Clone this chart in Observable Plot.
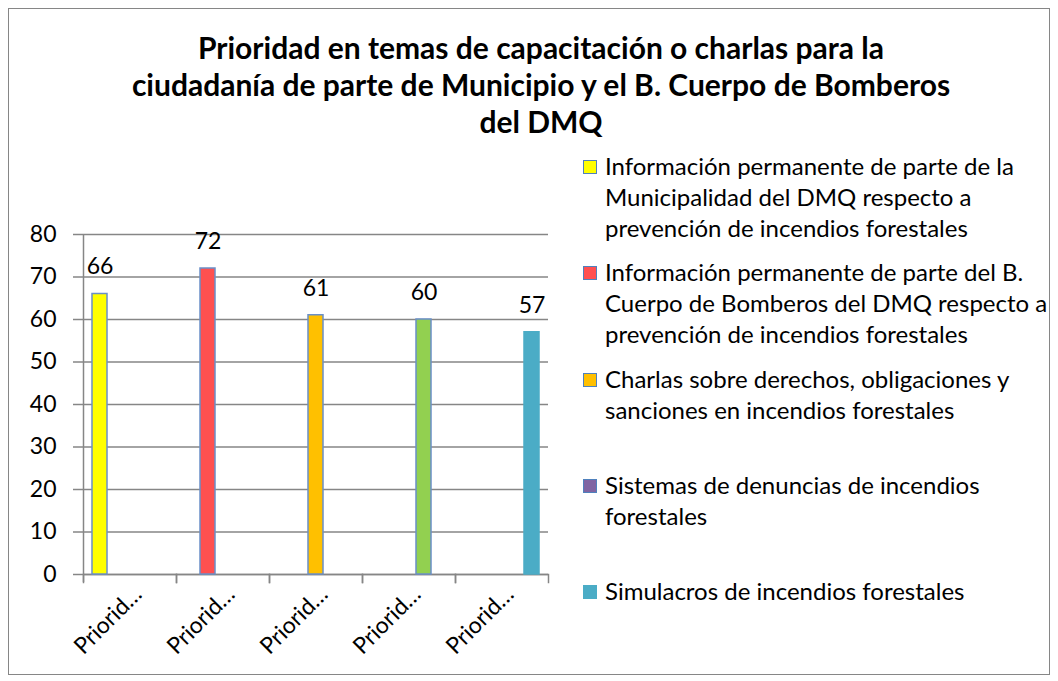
<!DOCTYPE html>
<html>
<head>
<meta charset="utf-8">
<script src="https://cdn.jsdelivr.net/npm/d3@7"></script>
<script src="https://cdn.jsdelivr.net/npm/@observablehq/plot@0.6"></script>
<style>
  body { margin: 0; background: #fff; font-family: Lato, sans-serif; color: #000; }
  #wrap { position: relative; width: 1058px; height: 681px; overflow: hidden; }
  #border { position: absolute; left: 8px; top: 8px; width: 1042px; height: 667px; border: 1.5px solid #868686; box-sizing: border-box; }
  #title { position: absolute; left: 0; top: 29px; width: 1082px; text-align: center; font-weight: bold; font-size: 30px; line-height: 37px; white-space: nowrap; }
  #chart { position: absolute; left: 0; top: 200px; }
  .item { position: absolute; left: 583px; width: 475px; font-size: 24px; line-height: 31px; }
  .sw { position: absolute; left: 0; top: 10px; width: 14px; height: 14px; box-sizing: border-box; }
  .txt { position: absolute; left: 22px; width: 452px; }
</style>
</head>
<body>
<div id="wrap">
  <div id="border"></div>
  <div id="title"></div>
  <div id="chart"></div>
  <div id="legend"></div>
</div>
<script>
const titleLines = [
  "Prioridad en temas de capacitación o charlas para la",
  "ciudadanía de parte de Municipio y el B. Cuerpo de Bomberos",
  "del DMQ"
];
const categories = ["Prioridad 1", "Prioridad 2", "Prioridad 3", "Prioridad 4", "Prioridad 5"];
const series = [
  "Información permanente de parte de la Municipalidad del DMQ respecto a prevención de incendios forestales",
  "Información permanente de parte del B. Cuerpo de Bomberos del DMQ respecto a prevención de incendios forestales",
  "Charlas sobre derechos, obligaciones y sanciones en incendios forestales",
  "Sistemas de denuncias de incendios forestales",
  "Simulacros de incendios forestales"
];
const values = [66, 72, 61, 60, 57];           // category i holds series i
const barColors = ["#FFFF00", "#FF5050", "#FFC000", "#92D050", "#4BACC6"];
const barStrokes = ["#6A8FC8", "#6A8FC8", "#6A8FC8", "#6A8FC8", "#4BACC6"];
const legendColors = ["#FFFF00", "#FF5050", "#FFC000", "#8064A2", "#4BACC6"];
const legendStrokes = ["#4F81BD", "#4F81BD", "#4F81BD", "#4F81BD", "#4BACC6"];
const yTicks = [0, 10, 20, 30, 40, 50, 60, 70, 80];

document.getElementById("title").innerHTML = titleLines.join("<br>");

const data = categories.map((c, i) => ({
  cat: c, series: series[i], value: values[i], fill: barColors[i], stroke: barStrokes[i]
}));

const gray = "#868686";
const chart = Plot.plot({
  width: 560,
  height: 470,
  marginLeft: 83,
  marginRight: 12,
  marginTop: 34,
  marginBottom: 96,
  style: { fontFamily: "Lato, sans-serif", fontSize: "22px", color: "#000", background: "transparent" },
  fx: { domain: categories, paddingInner: 0, paddingOuter: 0, label: null, axis: null },
  x: { domain: series, paddingInner: 0, paddingOuter: 0.6, axis: null },
  y: { domain: [0, 80], label: null, axis: null },
  marks: [
    Plot.gridY(yTicks, { stroke: gray, strokeOpacity: 1, strokeWidth: 1.5 }),
    Plot.axisY(yTicks, { tickSize: 10, tickPadding: 17, stroke: gray, strokeWidth: 1.5, fontSize: 23, label: null, tickFormat: d => String(d) }),
    Plot.axisFx({ anchor: "bottom", tickRotate: -45, tickSize: 0, tickPadding: 16, dx: 8, fontSize: 23, label: null, tickFormat: d => d.slice(0, 7) + "…" }),
    Plot.frame({ anchor: "left", insetTop: 340, insetBottom: -8, stroke: gray, strokeWidth: 1.5 }),
    Plot.frame({ anchor: "right", insetTop: 340, insetBottom: -8, stroke: gray, strokeWidth: 1.5 }),
    Plot.ruleX([data[0]], { fx: "cat", x: "series", dx: -16.5, insetBottom: -8, stroke: gray, strokeWidth: 1.5 }),
    Plot.ruleY([0], { stroke: gray, strokeWidth: 1.5 }),
    Plot.barY(data, { fx: "cat", x: "series", y: "value", fill: "fill", stroke: "stroke", strokeWidth: 1.5 }),
    Plot.text(data, { fx: "cat", x: "series", y: "value", text: d => String(d.value), dy: -27, fontSize: 23, fill: "#000" })
  ]
});
document.getElementById("chart").appendChild(chart);

const legend = document.getElementById("legend");
series.forEach((s, i) => {
  const item = document.createElement("div");
  item.className = "item";
  item.style.top = (150 + i * 106.25) + "px";
  const sw = document.createElement("div");
  sw.className = "sw";
  sw.style.background = legendColors[i];
  sw.style.border = "1.5px solid " + legendStrokes[i];
  const tx = document.createElement("div");
  tx.className = "txt";
  tx.textContent = s;
  item.appendChild(sw);
  item.appendChild(tx);
  legend.appendChild(item);
});
</script>
</body>
</html>
